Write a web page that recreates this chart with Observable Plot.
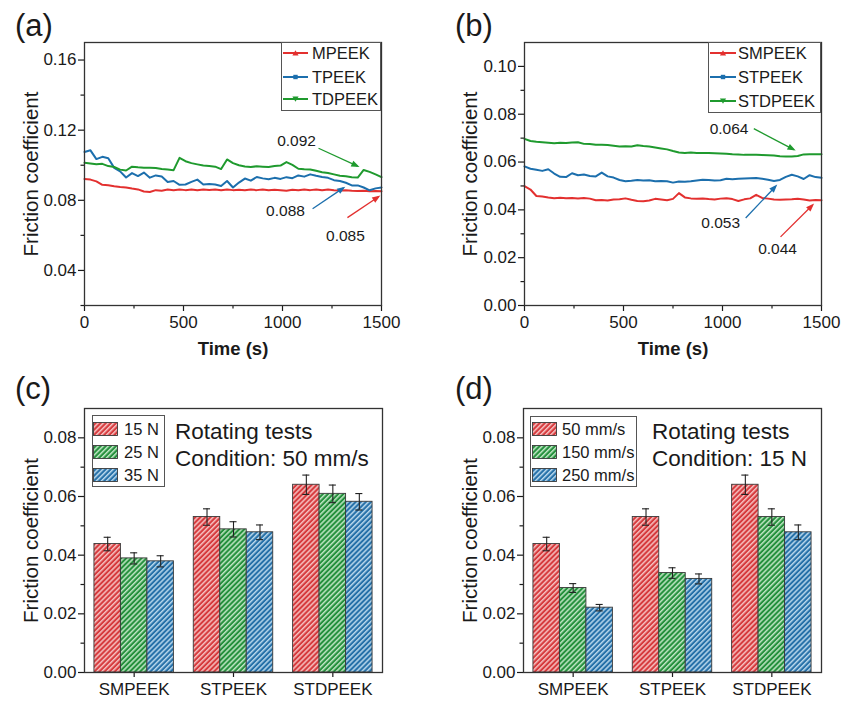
<!DOCTYPE html>
<html>
<head>
<meta charset="utf-8">
<script src="https://cdn.jsdelivr.net/npm/d3@7"></script>
<script src="https://cdn.jsdelivr.net/npm/@observablehq/plot@0.6"></script>
<style>
  body { margin: 0; background: #fff; }
  #fig { position: relative; width: 841px; height: 702px; overflow: hidden; background: #fff;
         font-family: "Liberation Sans", Arial, Helvetica, sans-serif; color: #1a1a1a; }
  .panel { position: absolute; }
  .plabel { position: absolute; font-size: 31px; line-height: 31px; white-space: nowrap; }
  .legend { position: absolute; border: 1px solid #555; background: #fff; box-sizing: border-box; }
  .ltext { position: absolute; font-size: 16.5px; line-height: 20px; white-space: nowrap; }
  .sw { position: absolute; line-height: 0; }
  .note { position: absolute; font-size: 22.5px; line-height: 27px; white-space: nowrap; }
</style>
</head>
<body>
<svg width="0" height="0" style="position:absolute">
  <defs>
    <pattern id="hatch-red" patternUnits="userSpaceOnUse" width="3.6" height="3.6" patternTransform="rotate(45)">
      <rect width="3.6" height="3.6" fill="#d63a3d"></rect>
      <rect width="1.5" height="3.6" fill="#f6c0c0"></rect>
    </pattern>
    <pattern id="hatch-green" patternUnits="userSpaceOnUse" width="3.6" height="3.6" patternTransform="rotate(45)">
      <rect width="3.6" height="3.6" fill="#24903c"></rect>
      <rect width="1.5" height="3.6" fill="#bfe5c4"></rect>
    </pattern>
    <pattern id="hatch-blue" patternUnits="userSpaceOnUse" width="3.6" height="3.6" patternTransform="rotate(45)">
      <rect width="3.6" height="3.6" fill="#2570a8"></rect>
      <rect width="1.5" height="3.6" fill="#b8d7ec"></rect>
    </pattern>
  </defs>
</svg>
<div id="fig"></div>
<script>
// ---------------- data ----------------
// time axis (s) shared by panels (a) and (b)
const timeS = [0,30,60,90,120,150,180,210,240,270,300,330,360,390,420,450,480,510,540,570,600,630,660,690,720,750,780,810,840,870,900,930,960,990,1020,1050,1080,1110,1140,1170,1200,1230,1260,1290,1320,1350,1380,1410,1440,1470,1500];

// panel (a)
const seriesA = ["MPEEK", "TPEEK", "TDPEEK"];
const mpeek = [.0922,.0918,.0908,.0888,.0886,.0880,.0876,.0873,.0867,.0862,
  .0850,.0847,.0858,.0855,.0861,.0857,.0862,.0858,.0861,.0857,
  .0862,.0859,.0861,.0857,.0862,.0858,.0860,.0857,.0861,.0858,
  .0862,.0857,.0860,.0858,.0855,.0860,.0857,.0861,.0858,.0862,
  .0857,.0861,.0858,.0856,.0858,.0855,.0853,.0854,.0851,.0853,.0852];
const tpeek = [.1075,.1085,.1035,.1048,.1040,.0985,.0965,.0930,.0955,.0938,
  .0958,.0929,.0942,.0936,.0905,.0910,.0888,.0890,.0905,.0918,
  .0890,.0893,.0890,.0882,.0910,.0873,.0901,.0924,.0912,.0933,
  .0925,.0920,.0928,.0922,.0932,.0926,.0942,.0935,.0948,.0940,
  .0933,.0928,.0915,.0910,.0900,.0885,.0885,.0873,.0857,.0868,.0873];
const tdpeek = [.1014,.1010,.1005,.1008,.0995,.0990,.0975,.0970,.0992,.0988,
  .0985,.0986,.0984,.0978,.0975,.0972,.1042,.1023,.1012,.1005,
  .0998,.0995,.0992,.0978,.1033,.1012,.1000,.0993,.0990,.0994,
  .0992,.0990,.0996,.0998,.1018,.1002,.0980,.0977,.0976,.0968,
  .0960,.0956,.0948,.0940,.0937,.0932,.0930,.0973,.0962,.0948,.0932];

// panel (b)
const seriesB = ["SMPEEK", "STPEEK", "STDPEEK"];
const smpeek = [.0499,.0485,.0458,.0456,.0452,.0449,.0451,.0449,.0450,.0448,
  .0450,.0447,.0440,.0441,.0439,.0443,.0444,.0448,.0442,.0437,
  .0436,.0439,.0446,.0443,.0440,.0446,.0470,.0452,.0448,.0447,
  .0448,.0445,.0443,.0447,.0449,.0445,.0437,.0444,.0448,.0463,
  .0450,.0447,.0443,.0442,.0443,.0444,.0446,.0443,.0439,.0441,.0440];
const stpeek = [.0582,.0572,.0568,.0563,.0570,.0552,.0538,.0537,.0553,.0545,
  .0548,.0542,.0540,.0556,.0540,.0535,.0525,.0520,.0522,.0525,
  .0523,.0524,.0520,.0521,.0520,.0514,.0519,.0518,.0520,.0523,
  .0526,.0525,.0523,.0524,.0530,.0528,.0530,.0531,.0532,.0533,
  .0530,.0526,.0521,.0525,.0538,.0547,.0540,.0529,.0545,.0537,.0534];
const stdpeek = [.0697,.0688,.0685,.0683,.0681,.0679,.0681,.0680,.0682,.0683,
  .0676,.0675,.0672,.0672,.0671,.0668,.0665,.0666,.0665,.0670,
  .0667,.0665,.0661,.0657,.0653,.0646,.0640,.0638,.0640,.0638,
  .0638,.0638,.0637,.0636,.0635,.0633,.0632,.0630,.0631,.0630,
  .0629,.0628,.0627,.0624,.0623,.0623,.0625,.0632,.0633,.0633,.0633];

// annotations (a): label, text anchor (t, μ), arrow start and end (t, μ)
const annSeriesA = ["TDPEEK", "TPEEK", "MPEEK"];
const annLabelA = ["0.092", "0.088", "0.085"];
const annTextTA = [1071, 1015, 1318];
const annTextVA = [0.1137, 0.0741, 0.0599];
const annFromTA = [1182, 1152, 1328];
const annFromVA = [0.1097, 0.0752, 0.0701];
const annToTA = [1379, 1308, 1485];
const annToVA = [0.0995, 0.0871, 0.0820];

// annotations (b)
const annSeriesB = ["STDPEEK", "STPEEK", "SMPEEK"];
const annLabelB = ["0.064", "0.053", "0.044"];
const annTextTB = [1033, 991, 1278];
const annTextVB = [0.0737, 0.0345, 0.0237];
const annFromTB = [1158, 1117, 1293];
const annFromVB = [0.0740, 0.0366, 0.0287];
const annToTB = [1360, 1269, 1455];
const annToVB = [0.0652, 0.0499, 0.0420];

// bar panels
const catsBar = ["SMPEEK", "STPEEK", "STDPEEK"];
const loadsC = ["15 N", "25 N", "35 N"];
const meanC15 = [0.0438, 0.0530, 0.0640];
const meanC25 = [0.0389, 0.0488, 0.0609];
const meanC35 = [0.0379, 0.0478, 0.0582];
const errC15 = [0.0023, 0.0028, 0.0033];
const errC25 = [0.0019, 0.0026, 0.0030];
const errC35 = [0.0019, 0.0025, 0.0028];

const speedsD = ["50 mm/s", "150 mm/s", "250 mm/s"];
const meanD50 = [0.0438, 0.0530, 0.0640];
const meanD150 = [0.0288, 0.0339, 0.0530];
const meanD250 = [0.0221, 0.0319, 0.0478];
const errD50 = [0.0023, 0.0028, 0.0033];
const errD150 = [0.0015, 0.0018, 0.0028];
const errD250 = [0.0011, 0.0017, 0.0025];

// ticks
const xMajor = [0, 500, 1000, 1500];
const xMinor = [250, 750, 1250];
const yMajorA = [0.04, 0.08, 0.12, 0.16];
const yMinorA = [0.02, 0.06, 0.10, 0.14];
const yMajorB = [0.00, 0.02, 0.04, 0.06, 0.08, 0.10];
const yMinorB = [0.01, 0.03, 0.05, 0.07, 0.09];
const yMajorBar = [0.00, 0.02, 0.04, 0.06, 0.08];
const yMinorBar = [0.01, 0.03, 0.05, 0.07];

// ---------------- styles ----------------
const FONT = '"Liberation Sans", Arial, Helvetica, sans-serif';
const INK = "#1a1a1a";
const lineColors = ["#e3302f", "#1c6fad", "#1f9a2e"];
const hatchFills = ["url(#hatch-red)", "url(#hatch-green)", "url(#hatch-blue)"];
const yTitle = "Friction coefficient";
const xTitle = "Time (s)";

const fig = document.getElementById("fig");

function solidArrowheads(svg) {
  svg.querySelectorAll("marker").forEach(m => {
    const c = m.getAttribute("stroke");
    m.setAttribute("fill", c);
    m.setAttribute("stroke", "none");
    m.style.overflow = "visible";
    const p = m.querySelector("path");
    if (p) p.setAttribute("d", "M-7,-3.6L2.5,0L-7,3.6Z");
  });
}

function mount(node, left, top) {
  const d = document.createElement("div");
  d.className = "panel";
  d.style.left = left + "px";
  d.style.top = top + "px";
  d.appendChild(node);
  fig.appendChild(d);
}

function linePanel({series, values, yDomain, yMajor, yMinor, ann, width, ml, mr, titleDx}) {
  const rows = series.flatMap((s, k) => timeS.map((t, i) => ({series: s, t, v: values[k][i]})));
  const annRows = ann.series.map((s, i) => ({
    series: s, label: ann.label[i], tx: ann.tt[i], ty: ann.tv[i],
    x1: ann.ft[i], y1: ann.fv[i], x2: ann.et[i], y2: ann.ev[i]
  }));
  const svg = Plot.plot({
    width, height: 365,
    marginLeft: ml, marginRight: mr, marginTop: 42, marginBottom: 60,
    style: {fontFamily: FONT, fontSize: "17px", color: INK, background: "none"},
    x: {domain: [0, 1500]},
    y: {domain: yDomain},
    color: {domain: series, range: lineColors},
    marks: [
      Plot.axisX({ticks: xMajor, tickSize: 6, tickPadding: 4, fontSize: 17, tickFormat: d3.format("d"), label: null, strokeWidth: 1.2}),
      Plot.axisX({ticks: xMinor, tickSize: 3.5, tickFormat: () => "", label: null, strokeWidth: 1.2}),
      Plot.axisY({ticks: yMajor, tickSize: 6, tickPadding: 2, fontSize: 17, tickFormat: d3.format(".2f"), label: null, strokeWidth: 1.2}),
      Plot.axisY({ticks: yMinor, tickSize: 3.5, tickFormat: () => "", label: null, strokeWidth: 1.2}),
      Plot.line(rows, {x: "t", y: "v", stroke: "series", strokeWidth: 2}),
      Plot.link(annRows, {x1: "x1", y1: "y1", x2: "x2", y2: "y2", stroke: "series", strokeWidth: 1.3, markerEnd: "arrow"}),
      Plot.text(annRows, {x: "tx", y: "ty", text: "label", fontSize: 15.5, fill: INK}),
      Plot.text([yTitle], {frameAnchor: "left", textAnchor: "middle", rotate: -90, dx: titleDx, fontSize: 20.5, fill: INK}),
      Plot.text([xTitle], {frameAnchor: "bottom", dy: 49, fontSize: 18.5, fontWeight: "bold", fill: INK}),
      Plot.frame({stroke: "#333", strokeWidth: 1.3})
    ]
  });
  solidArrowheads(svg);
  return svg;
}

function barPanel({groups, means, errs, width, ml, mr, titleDx}) {
  const rows = groups.flatMap((g, k) => catsBar.map((c, i) => ({
    cat: c, grp: g, v: means[k][i], lo: means[k][i] - errs[k][i], hi: means[k][i] + errs[k][i]
  })));
  return Plot.plot({
    width, height: 342,
    marginLeft: ml, marginRight: mr, marginTop: 48, marginBottom: 30,
    style: {fontFamily: FONT, fontSize: "17px", color: INK, background: "none"},
    fx: {domain: catsBar, padding: 0, round: false},
    x: {domain: groups, paddingInner: 0, paddingOuter: 0.375, round: false, axis: null},
    y: {domain: [0, 0.09]},
    color: {domain: groups, range: hatchFills},
    marks: [
      Plot.axisY({ticks: yMajorBar, tickSize: 6, tickPadding: 2, fontSize: 17, tickFormat: d3.format(".2f"), label: null, strokeWidth: 1.2}),
      Plot.axisY({ticks: yMinorBar, tickSize: 3.5, tickFormat: () => "", label: null, strokeWidth: 1.2}),
      Plot.axisFx({anchor: "bottom", tickSize: 5, tickPadding: 5, fontSize: 17, label: null, strokeWidth: 1.2}),
      Plot.barY(rows, {fx: "cat", x: "grp", y: "v", fill: "grp", stroke: "#3a3a3a", strokeWidth: 0.9}),
      Plot.ruleX(rows, {fx: "cat", x: "grp", y1: "lo", y2: "hi", stroke: "#222", strokeWidth: 1.1}),
      Plot.tickY(rows, {fx: "cat", x: "grp", y: "hi", stroke: "#222", strokeWidth: 1.1, insetLeft: 9.7, insetRight: 9.7}),
      Plot.tickY(rows, {fx: "cat", x: "grp", y: "lo", stroke: "#222", strokeWidth: 1.1, insetLeft: 9.7, insetRight: 9.7}),
      Plot.text([yTitle], {facet: "super", frameAnchor: "left", textAnchor: "middle", rotate: -90, dx: titleDx, fontSize: 20.5, fill: INK}),
      Plot.frame({facet: "super", stroke: "#333", strokeWidth: 1.3})
    ]
  });
}

// ---------------- panels ----------------
mount(linePanel({
  series: seriesA, values: [mpeek, tpeek, tdpeek], yDomain: [0.02, 0.17],
  yMajor: yMajorA, yMinor: yMinorA,
  ann: {series: annSeriesA, label: annLabelA, tt: annTextTA, tv: annTextVA, ft: annFromTA, fv: annFromVA, et: annToTA, ev: annToVA},
  width: 420, ml: 84, mr: 39, titleDx: -53.5
}), 0, 0);

mount(linePanel({
  series: seriesB, values: [smpeek, stpeek, stdpeek], yDomain: [0, 0.11],
  yMajor: yMajorB, yMinor: yMinorB,
  ann: {series: annSeriesB, label: annLabelB, tt: annTextTB, tv: annTextVB, ft: annFromTB, fv: annFromVB, et: annToTB, ev: annToVB},
  width: 421, ml: 104, mr: 20, titleDx: -54
}), 420, 0);

mount(barPanel({
  groups: loadsC, means: [meanC15, meanC25, meanC35], errs: [errC15, errC25, errC35],
  width: 420, ml: 84, mr: 38, titleDx: -53.5
}), 0, 360);

mount(barPanel({
  groups: speedsD, means: [meanD50, meanD150, meanD250], errs: [errD50, errD150, errD250],
  width: 421, ml: 103, mr: 20, titleDx: -53
}), 420, 360);

// ---------------- panel labels ----------------
[["(a)", 15, 10], ["(b)", 455, 10], ["(c)", 15, 373], ["(d)", 455, 373]].forEach(([t, x, y]) => {
  const d = document.createElement("div");
  d.className = "plabel";
  d.textContent = t;
  d.style.left = x + "px";
  d.style.top = y + "px";
  fig.appendChild(d);
});

// ---------------- legends ----------------
const markerShapes = [
  c => `<path d="M12.5,2.2L15.6,7.6L9.4,7.6Z" fill="${c}"/>`,
  c => `<rect x="10.3" y="2.8" width="4.4" height="4.4" fill="${c}"/>`,
  c => `<path d="M9.4,2.4L15.6,2.4L12.5,7.8Z" fill="${c}"/>`
];
function lineSwatch(k, w) {
  const c = lineColors[k];
  return `<svg width="${w}" height="10"><line x1="0" x2="${w}" y1="5" y2="5" stroke="${c}" stroke-width="2"/>${markerShapes[k](c).replace(/12\.5|9\.4|15\.6|10\.3/g, m => (parseFloat(m) + (w - 25) / 2).toFixed(1))}</svg>`;
}
function barSwatch(k, w) {
  return `<svg width="${w}" height="14"><rect x="0.5" y="0.5" width="${w - 1}" height="13" fill="${hatchFills[k]}" stroke="#3a3a3a" stroke-width="0.9"/></svg>`;
}
function legend({left, top, width, height, cys, swLeft, swW, swH, swFn, textLeft, labels}) {
  const box = document.createElement("div");
  box.className = "legend";
  Object.assign(box.style, {left: left + "px", top: top + "px", width: width + "px", height: height + "px"});
  fig.appendChild(box);
  labels.forEach((lab, k) => {
    const sw = document.createElement("div");
    sw.className = "sw";
    sw.innerHTML = swFn(k, swW);
    Object.assign(sw.style, {left: (swLeft - left - 1) + "px", top: (cys[k] - top - 1 - swH / 2) + "px"});
    box.appendChild(sw);
    const t = document.createElement("div");
    t.className = "ltext";
    t.textContent = lab;
    Object.assign(t.style, {left: (textLeft - left - 1) + "px", top: (cys[k] - top - 1 - 10) + "px"});
    box.appendChild(t);
  });
}
legend({left: 281, top: 42, width: 100, height: 69, cys: [53.3, 76.7, 99.3], swLeft: 283, swW: 25, swH: 10, swFn: lineSwatch, textLeft: 312, labels: seriesA});
legend({left: 708, top: 42, width: 113, height: 71, cys: [53.3, 77, 100.5], swLeft: 709.5, swW: 26, swH: 10, swFn: lineSwatch, textLeft: 738, labels: seriesB});
legend({left: 92, top: 415, width: 73, height: 72, cys: [429.3, 452.4, 475.3], swLeft: 93.3, swW: 25, swH: 14, swFn: barSwatch, textLeft: 124, labels: loadsC});
legend({left: 530, top: 416, width: 107, height: 71, cys: [429.3, 452.4, 475.3], swLeft: 532, swW: 25, swH: 14, swFn: barSwatch, textLeft: 562, labels: speedsD});

// ---------------- notes ----------------
const notesC = ["Rotating tests", "Condition: 50 mm/s"];
const notesD = ["Rotating tests", "Condition: 15 N"];
[[notesC, 175], [notesD, 652]].forEach(([lines, x]) => {
  const d = document.createElement("div");
  d.className = "note";
  d.innerHTML = lines.map(s => `<div>${s}</div>`).join("");
  d.style.left = x + "px";
  d.style.top = "417.5px";
  fig.appendChild(d);
});
</script>
</body>
</html>
